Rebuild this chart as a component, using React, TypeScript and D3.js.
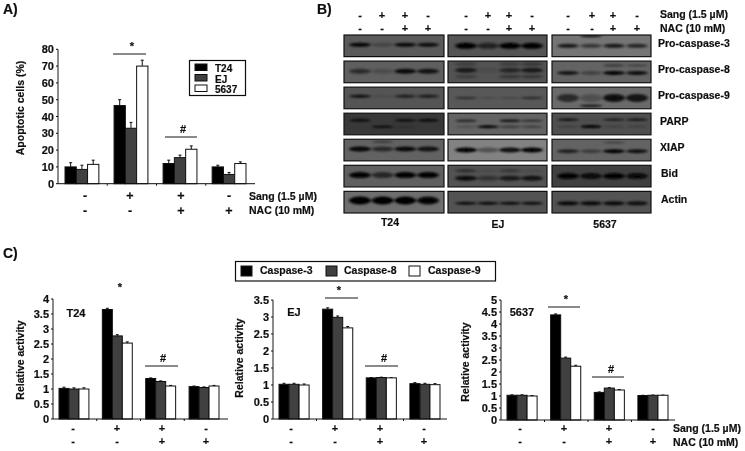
import React from "react";
import * as d3 from "d3";

const FONT = "'Liberation Sans', Arial, sans-serif";

// ---------- Panel A ----------
const aSeriesNames = ["T24", "EJ", "5637"];
const aT24 = [10, 46.5, 12, 10];
const aEJ = [8.5, 33, 15.5, 5.5];
const a5637 = [11.5, 70, 20.5, 12];
const aT24Err = [2.5, 3.5, 2, 1];
const aEJErr = [2.5, 3.5, 1.5, 1.2];
const a5637Err = [2.5, 3.5, 2, 1];
const aTicks = [0, 10, 20, 30, 40, 50, 60, 70, 80];

// ---------- Panel C ----------
const cLegend = ["Caspase-3", "Caspase-8", "Caspase-9"];
const t24C3 = [1.02, 3.65, 1.35, 1.08];
const t24C8 = [1.0, 2.77, 1.25, 1.05];
const t24C9 = [1.0, 2.53, 1.1, 1.1];
const t24Err = [0.04, 0.04, 0.02, 0.02];
const ejC3 = [1.02, 3.23, 1.21, 1.04];
const ejC8 = [1.02, 2.99, 1.22, 1.02];
const ejC9 = [1.0, 2.68, 1.21, 1.01];
const ejErr = [0.03, 0.04, 0.01, 0.03];
const c5637C3 = [1.03, 4.38, 1.15, 1.02];
const c5637C8 = [1.03, 2.58, 1.33, 1.03];
const c5637C9 = [1.0, 2.24, 1.25, 1.03];
const c5637Err = [0.02, 0.04, 0.02, 0.01];
const t24Ticks = ["0", "0.5", "1", "1.5", "2", "2.5", "3", "3.5", "4"];
const ejTicks = ["0", "0.5", "1", "1.5", "2", "2.5", "3", "3.5"];
const c5637Ticks = ["0", "0.5", "1", "1.5", "2", "2.5", "3", "3.5", "4", "4.5", "5"];

const sangSigns = ["-", "+", "+", "-"];
const nacSigns = ["-", "-", "+", "+"];
const fills = ["#000000", "#404040", "#ffffff"];

// ---------- Panel B (band strengths per lane, per row) ----------
const blotRows = ["Pro-caspase-3", "Pro-caspase-8", "Pro-caspase-9", "PARP", "XIAP", "Bid", "Actin"];
const blotCells = ["T24", "EJ", "5637"];
type Band = [number, number[], number];
const blotT24: [string, Band[]][] = [
  ["#5a5a5a", [[0.45, [0.95, 0.25, 0.9, 0.85], 4]]],
  ["#5e5e5e", [[0.47, [0.55, 0.2, 0.9, 0.8], 5]]],
  ["#545454", [[0.42, [0.9, 0.1, 0.7, 0.75], 3]]],
  ["#383838", [[0.33, [0.9, 0, 0.85, 0.95], 2.5], [0.63, [0, 0.95, 0.2, 0], 2]]],
  ["#626262", [[0.45, [0.98, 0.6, 0.9, 0.85], 5], [0.12, [0, 0.5, 0, 0], 2]]],
  ["#606060", [[0.45, [0.98, 0.6, 1, 1], 6]]],
  ["#6e6e6e", [[0.42, [1, 1, 1, 0.95], 8]]],
];
const blotEJ: [string, Band[]][] = [
  ["#545454", [[0.5, [1, 0.6, 1, 1], 6]]],
  ["#525252", [[0.42, [0.7, 0.08, 0.55, 0.7], 5], [0.72, [0.3, 0, 0.4, 0.4], 3], [0.14, [0.3, 0, 0.3, 0.4], 3]]],
  ["#585858", [[0.5, [0.5, 0.15, 0.2, 0.55], 2.5]]],
  ["#646464", [[0.35, [0.65, 0, 0.85, 0.5], 2.5], [0.63, [0.2, 1, 0.4, 0.35], 3]]],
  ["#828282", [[0.5, [1, 0.4, 0.9, 1], 5]]],
  ["#525252", [[0.6, [0.85, 0.4, 0.7, 0.8], 5], [0.25, [0.5, 0.1, 0.4, 0.1], 3]]],
  ["#525252", [[0.55, [0.9, 0.9, 0.9, 0.9], 3]]],
];
const blot5637: [string, Band[]][] = [
  ["#747474", [[0.5, [0.8, 0.55, 0.8, 0.7], 4], [0.04, [0, 0.8, 0, 0], 3]]],
  ["#646464", [[0.55, [0.8, 0.35, 1, 0.9], 4], [0.2, [0, 0, 0.4, 0.3], 3]]],
  ["#6a6a6a", [[0.5, [0.6, 0.25, 0.85, 0.8], 8], [0.86, [0, 0.95, 0, 0], 2]]],
  ["#505050", [[0.3, [0.85, 0.1, 0.7, 0.8], 2.5], [0.62, [0.2, 1, 0.2, 0.2], 3]]],
  ["#646464", [[0.55, [0.7, 0.4, 1, 0.85], 4], [0.15, [0, 0, 0.4, 0], 2]]],
  ["#404040", [[0.5, [0.98, 0.85, 0.98, 0.9], 6]]],
  ["#525252", [[0.55, [0.9, 0.9, 0.9, 0.85], 4]]],
];
const blotAll = [blotT24, blotEJ, blot5637];

const text = (x: number, y: number, s: string, size = 10.5, anchor: string = "middle", extra: any = {}) => (
  <text x={x} y={y} fontFamily={FONT} fontWeight="bold" fontSize={size} textAnchor={anchor as any} fill="#111" stroke="#111" strokeWidth={0.2} {...extra}>{s}</text>
);

type BarProps = {
  x0: number; x1: number; y0: number; y1: number; max: number; ticks: string[];
  series: number[][]; errs: number[][]; groupRange: [number, number];
  axisLabel: string; labelX: number; labelY: number; signY: [number, number];
  signX: number[]; signSize: number;
};

function Bars(p: BarProps) {
  const y = d3.scaleLinear().domain([0, p.max]).range([p.y0, p.y1]);
  const groups = d3.scaleBand<number>().domain([0, 1, 2, 3]).range(p.groupRange).paddingInner(0.31).paddingOuter(0);
  const inner = d3.scaleBand<number>().domain([0, 1, 2]).range([0, groups.bandwidth()]);
  const step = (p.x1 - p.x0) / 4;
  return (
    <g>
      {p.series.map((vals, si) =>
        vals.map((v, gi) => {
          const bx = groups(gi)! + inner(si)!;
          const cx = bx + inner.bandwidth() / 2;
          const e = y(v + p.errs[si][gi]);
          return (
            <g key={`${si}-${gi}`}>
              <line x1={cx} x2={cx} y1={y(v)} y2={e} stroke="#111" strokeWidth={1} />
              <line x1={cx - 1.5} x2={cx + 1.5} y1={e} y2={e} stroke="#111" strokeWidth={1} />
              <rect x={bx} y={y(v)} width={inner.bandwidth()} height={p.y0 - y(v)} fill={fills[si]} stroke="#111" strokeWidth={1} />
            </g>
          );
        })
      )}
      <line x1={p.x0} x2={p.x0} y1={p.y0} y2={p.y1} stroke="#111" strokeWidth={1} />
      <line x1={p.x0} x2={p.x1} y1={p.y0} y2={p.y0} stroke="#111" strokeWidth={1} />
      {p.ticks.map((t, i) => {
        const ty = y((i * p.max) / (p.ticks.length - 1));
        return (
          <g key={t}>
            <line x1={p.x0 - 2} x2={p.x0} y1={ty} y2={ty} stroke="#111" />
            {text(p.x0 - 4, ty + 4, t, 11, "end")}
          </g>
        );
      })}
      {[1, 2, 3].map((i) => (
        <line key={i} x1={p.x0 + step * i} x2={p.x0 + step * i} y1={p.y0} y2={p.y0 + 2} stroke="#111" />
      ))}
      {text(p.labelX, p.labelY, p.axisLabel, 10.5, "middle", { transform: `rotate(-90 ${p.labelX} ${p.labelY})` })}
      {p.signX.map((sx, i) => (
        <g key={i}>
          {text(sx, p.signY[0], sangSigns[i], p.signSize)}
          {text(sx, p.signY[1], nacSigns[i], p.signSize)}
        </g>
      ))}
    </g>
  );
}

const Mark = ({ x1, x2, y, s, sx }: { x1: number; x2: number; y: number; s: string; sx: number }) => (
  <g>
    {x2 > x1 && <line x1={x1} x2={x2} y1={y} y2={y} stroke="#111" strokeWidth={1} />}
    {text(sx, y - 4, s, 11)}
  </g>
);

function Blots() {
  const rowScale = d3.scaleBand<number>().domain(d3.range(7)).range([35, 213]).paddingInner(0.17);
  const panelX = [[344, 444], [448, 547], [552, 651]];
  const laneX = [[360, 428], [466, 532], [568, 637]];
  return (
    <g>
      <defs>
        <filter id="bandBlur" x="-30%" y="-100%" width="160%" height="300%"><feGaussianBlur stdDeviation="1.4 0.9" /></filter>
      </defs>
      {blotAll.map((panel, pi) => {
        const lane = d3.scaleLinear().domain([0, 3]).range(laneX[pi]);
        const [xa, xb] = panelX[pi];
        return panel.map(([bg, bands], ri) => {
          const ry = rowScale(ri)!;
          const rh = rowScale.bandwidth();
          const id = `clip-${pi}-${ri}`;
          return (
            <g key={id}>
              <clipPath id={id}><rect x={xa} y={ry} width={xb - xa} height={rh} /></clipPath>
              <rect x={xa} y={ry} width={xb - xa} height={rh} fill={bg} />
              <g clipPath={`url(#${id})`} filter="url(#bandBlur)">
                {bands.map(([f, strengths, h], bi) =>
                  strengths.map((s, li) =>
                    s > 0 ? (
                      <ellipse key={`${bi}-${li}`} cx={lane(li)} cy={ry + f * rh} rx={11} ry={h / 2} fill="#000" opacity={s} />
                    ) : null
                  )
                )}
              </g>
              <rect x={xa} y={ry} width={xb - xa} height={rh} fill="none" stroke="#111" strokeWidth={1.2} />
            </g>
          );
        });
      })}
      {blotRows.map((r, i) => {
        const cy = rowScale(i)! + rowScale.bandwidth() / 2 + 3;
        const lx = r.startsWith("Pro") ? 658 : i === 3 || i === 4 ? 660 : 661;
        return <g key={r}>{text(lx, cy - 2, r, 10.5, "start")}</g>;
      })}
      {[[360, 382, 405, 428], [466, 488, 509, 532], [568, 592, 613, 637]].map((xs, pi) =>
        xs.map((x, i) => (
          <g key={`${pi}-${i}`}>
            {text(x, 19, sangSigns[i], 11)}
            {text(x, 32, nacSigns[i], 11)}
          </g>
        ))
      )}
      {text(660, 18, "Sang (1.5 µM)", 10.5, "start")}
      {text(660, 32, "NAC (10 mM)", 10.5, "start")}
      {text(390, 226, blotCells[0], 10.5)}
      {text(498, 228, blotCells[1], 10.5)}
      {text(605, 228, blotCells[2], 10.5)}
    </g>
  );
}

export default function App() {
  return (
    <svg width={745} height={451} viewBox="0 0 745 451" style={{ position: "absolute", left: 0, top: 0, background: "#fff" }}>
      <defs>
        <filter id="soft"><feGaussianBlur stdDeviation="0.35" /></filter>
      </defs>
      <g filter="url(#soft)">
        {text(3, 14, "A)", 14, "start")}
        {text(317, 14, "B)", 14, "start")}
        {text(3, 258, "C)", 14, "start")}

        <Bars x0={58} x1={255} y0={183.7} y1={49.3} max={80}
          ticks={aTicks.map(String)} series={[aT24, aEJ, a5637]} errs={[aT24Err, aEJErr, a5637Err]}
          groupRange={[65, 246]} axisLabel="Apoptotic cells (%)" labelX={24} labelY={108}
          signY={[200, 215]} signX={[85, 130, 181, 229]} signSize={12.5} />
        <Mark x1={113} x2={146} y={54} s="*" sx={132} />
        <Mark x1={165} x2={197} y={137} s="#" sx={183} />
        <rect x={189.5} y={60.5} width={56} height={35} fill="#fff" stroke="#111" strokeWidth={1.2} />
        {aSeriesNames.map((n, i) => {
          const ly = d3.scaleLinear().domain([0, 2]).range([64, 85])(i);
          return (
            <g key={n}>
              <rect x={195} y={ly} width={12} height={6.5} fill={fills[i]} stroke="#111" />
              {text(215, ly + 8, n, 10, "start")}
            </g>
          );
        })}
        {text(249, 200, "Sang (1.5 µM)", 10.5, "start")}
        {text(249, 214, "NAC (10 mM)", 10.5, "start")}

        <Blots />

        <rect x={235.5} y={261.5} width={260} height={19.5} fill="#fff" stroke="#111" strokeWidth={1.2} />
        {cLegend.map((n, i) => {
          const sw = [241, 326, 409][i];
          const tx = [260, 344, 428][i];
          return (
            <g key={n}>
              <rect x={sw} y={266} width={11} height={10} fill={fills[i]} stroke="#111" />
              {text(tx, 274, n, 10.5, "start")}
            </g>
          );
        })}

        <Bars x0={53} x1={228} y0={419} y1={299} max={4} ticks={t24Ticks}
          series={[t24C3, t24C8, t24C9]} errs={[t24Err, t24Err, t24Err]} groupRange={[59, 219]}
          axisLabel="Relative activity" labelX={24} labelY={360} signY={[432, 445]} signX={[73, 117, 162, 206]} signSize={11} />
        {text(76, 317, "T24", 11)}
        <Mark x1={0} x2={0} y={295} s="*" sx={120} />
        <Mark x1={145} x2={178} y={366} s="#" sx={163} />

        <Bars x0={273} x1={447} y0={419} y1={300} max={3.5} ticks={ejTicks}
          series={[ejC3, ejC8, ejC9]} errs={[ejErr, ejErr, ejErr]} groupRange={[279, 440]}
          axisLabel="Relative activity" labelX={243} labelY={358} signY={[432, 445]} signX={[291, 335, 380, 424]} signSize={11} />
        {text(294, 316, "EJ", 11)}
        <Mark x1={325} x2={358} y={298} s="*" sx={339} />
        <Mark x1={365} x2={398} y={366} s="#" sx={384} />

        <Bars x0={501} x1={675} y0={420} y1={300} max={5} ticks={c5637Ticks}
          series={[c5637C3, c5637C8, c5637C9]} errs={[c5637Err, c5637Err, c5637Err]} groupRange={[507, 668]}
          axisLabel="Relative activity" labelX={469} labelY={362} signY={[432, 445]} signX={[520, 564, 609, 653]} signSize={11} />
        {text(522, 316, "5637", 11)}
        <Mark x1={548} x2={580} y={307} s="*" sx={566} />
        <Mark x1={592} x2={624} y={377} s="#" sx={611} />
        {text(673, 432, "Sang (1.5 µM)", 10.5, "start")}
        {text(673, 446, "NAC (10 mM)", 10.5, "start")}
      </g>
    </svg>
  );
}
